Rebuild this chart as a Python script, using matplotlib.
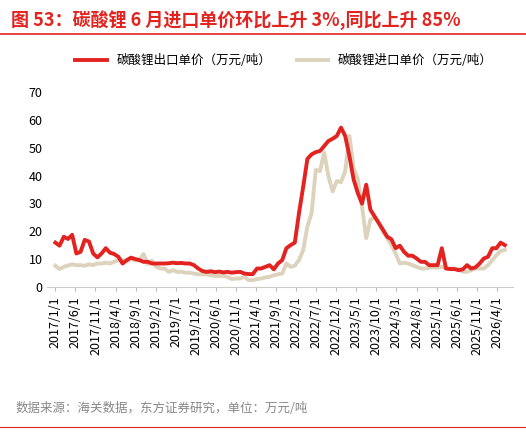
import matplotlib
matplotlib.use("Agg")
import matplotlib.pyplot as plt
from matplotlib.lines import Line2D
import numpy as np

plt.rcParams['font.family'] = ['Noto Sans CJK SC', 'DejaVu Sans']

labels = ["2017/1/1","2017/6/1","2017/11/1","2018/4/1","2018/9/1","2019/2/1","2019/7/1",
          "2019/12/1","2020/6/1","2020/11/1","2021/4/1","2021/9/1","2022/2/1","2022/7/1",
          "2022/12/1","2023/5/1","2023/10/1","2024/3/1","2024/8/1","2025/1/1","2025/6/1",
          "2025/11/1","2026/4/1"]

export_price = [15.9,14.8,18,17.2,18.7,12,12.6,16.9,16.3,12,10.6,12,13.9,12.3,11.8,10.8,8.4,9.6,10.5,10,
                9.6,9,9,8.4,8.4,8.4,8.4,8.5,8.7,8.5,8.6,8.4,8.4,7.8,6.6,5.7,5.4,5.6,5.3,5.5,
                5.2,5.4,5.1,5.3,5.4,4.8,4.6,4.6,6.6,6.6,7.2,7.8,6.3,8.4,9.6,13.9,15,15.9,26.5,36,
                46,47.6,48.4,48.8,50.6,52.4,53.2,54.2,57.2,54.2,47,38.6,33.7,29.9,36.7,27.7,25.3,22.9,20.5,18,
                17.1,13.9,14.8,12.6,11.2,11.2,10.2,9,9,7.8,7.8,7.8,13.9,6.6,6.4,6.4,6,6.3,7.8,6.6,
                7,8.4,10.2,10.8,13.9,13.9,15.9,15]
import_price = [7.6,6.4,7.2,7.7,8.1,7.8,7.8,7.6,8.1,7.8,8.4,8.4,8.7,8.4,9,9.6,9.6,9.3,10,9.6,
                9.6,11.8,8.2,9.4,7.2,6.6,6.6,5.4,6,5.4,5.4,5.1,5.1,4.8,4.5,4.5,4.5,4.2,3.9,3.9,
                4,3.6,2.8,3,3,3.6,2.4,2.4,2.8,3,3.4,3.6,4.2,4.5,4.8,8.4,7.2,7.6,9.6,13.3,
                21.7,26.5,42,41.6,48.2,39.8,34.3,38,37.6,41.6,54.2,42.8,38.6,28.9,17.5,24.1,25,22.9,19.9,17.5,
                15,12,8.4,8.7,8.4,7.8,7.2,6.6,6.6,6.9,7,6.9,7.2,6.6,6.6,6.6,6.4,5.4,5.4,6,
                6.6,6.6,6.6,7.8,9.6,11.4,12.9,13.3]

red = "#e3231f"
beige = "#ddd3bd"

fig = plt.figure(figsize=(5.26, 4.38), dpi=100)
fig.text(0.02, 0.955, "图 53：碳酸锂 6 月进口单价环比上升 3%,同比上升 85%", color=red,
         fontsize=13, fontweight='bold', va='center')
fig.add_artist(Line2D([0.0, 1.0], [0.922, 0.922], color=red, lw=1.2))

ax = fig.add_axes([0.09, 0.345, 0.885, 0.445])
x = np.linspace(0, 112, len(export_price))
ax.plot(x, import_price, color=beige, lw=2.8, label="碳酸锂进口单价（万元/吨）")
ax.plot(x, export_price, color=red, lw=2.8, label="碳酸锂出口单价（万元/吨）")
ax.set_ylim(0, 70)
ax.set_yticks(range(0, 71, 10))
ax.set_xlim(-2, 114)
ax.set_xticks(range(0, 5 * len(labels), 5))
ax.set_xticklabels(labels, rotation=90, fontsize=9)
ax.tick_params(axis='y', labelsize=9, length=0)
ax.tick_params(axis='x', length=3, color='#bbbbbb')
for s in ['top', 'right', 'left']:
    ax.spines[s].set_visible(False)
ax.spines['bottom'].set_color('#cccccc')

h, l = ax.get_legend_handles_labels()
fig.legend([h[1], h[0]], [l[1], l[0]], loc='center', bbox_to_anchor=(0.54, 0.862), ncol=2,
           frameon=False, fontsize=9, columnspacing=2, handlelength=2.5)

fig.text(0.03, 0.06, "数据来源：海关数据，东方证券研究，单位：万元/吨", color='#888888', fontsize=9)
fig.add_artist(Line2D([0.0, 1.0], [0.025, 0.025], color=red, lw=0.8))

fig.savefig("out.png", dpi=100)
